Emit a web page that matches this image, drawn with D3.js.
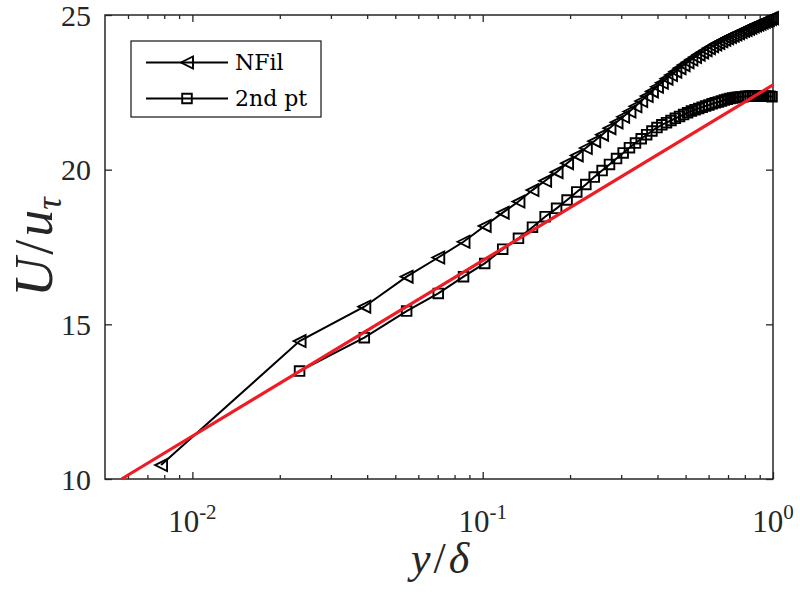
<!DOCTYPE html>
<html><head><meta charset="utf-8">
<script src="https://cdn.jsdelivr.net/npm/d3@7"></script>
<style>body{margin:0;background:#fff}svg{display:block}</style>
</head><body><svg id="c" width="800" height="593"></svg>
<script>
// ---- data ----
const yDelta = [0.0078,0.0234,0.0391,0.0547,0.0703,0.0859,0.1016,0.1172,0.1328,0.1484,
  0.1641,0.1797,0.1953,0.2109,0.2266,0.2422,0.2578,0.2734,0.2891,0.3047,
  0.3203,0.3359,0.3516,0.3672,0.3828,0.3984,0.4141,0.4297,0.4453,0.4609,
  0.4766,0.4922,0.5078,0.5234,0.5391,0.5547,0.5703,0.5859,0.6016,0.6172,
  0.6328,0.6484,0.6641,0.6797,0.6953,0.7109,0.7266,0.7422,0.7578,0.7734,
  0.7891,0.8047,0.8203,0.8359,0.8516,0.8672,0.8828,0.8984,0.9141,0.9297,
  0.9453,0.9609,0.9766,0.9922];
const nfilU = [10.45,14.46,15.57,16.54,17.16,17.67,18.18,18.61,18.97,19.34,
  19.64,19.92,20.21,20.46,20.70,20.92,21.13,21.34,21.53,21.71,
  21.88,22.05,22.22,22.38,22.53,22.68,22.81,22.94,23.06,23.17,
  23.28,23.38,23.47,23.56,23.64,23.72,23.79,23.86,23.93,23.99,
  24.05,24.10,24.15,24.20,24.25,24.29,24.33,24.37,24.41,24.45,
  24.49,24.52,24.56,24.59,24.63,24.66,24.69,24.72,24.75,24.78,
  24.81,24.84,24.87,24.90];
const secondU = [null,13.49,14.57,15.43,16.00,16.54,16.97,17.43,17.78,18.14,
  18.48,18.75,19.02,19.28,19.52,19.76,19.97,20.17,20.36,20.54,
  20.71,20.86,21.00,21.13,21.25,21.36,21.45,21.52,21.59,21.66,
  21.72,21.78,21.84,21.90,21.94,21.98,22.02,22.06,22.09,22.13,
  22.16,22.19,22.22,22.25,22.28,22.30,22.32,22.33,22.34,22.35,
  22.36,22.37,22.37,22.38,22.38,22.38,22.38,22.38,22.38,22.38,
  22.37,22.37,22.37,22.36];
const logLawX = [0.0057, 1];
const logLawU = [10, 22.74];
const xMajorTicks = [0.01, 0.1, 1];
const xTickExponents = ["-2", "-1", "0"];
const xMinorTicks = [0.006,0.007,0.008,0.009,0.02,0.03,0.04,0.05,0.06,0.07,0.08,0.09,
  0.2,0.3,0.4,0.5,0.6,0.7,0.8,0.9];
const yTicks = [10, 15, 20, 25];
const seriesNames = ["NFil", "2nd pt"];

// ---- layout ----
const L = 105, R = 773, T = 15, B = 479;
const axisColor = "#262626";
const svg = d3.select("#c");
const x = d3.scaleLog().domain([0.005, 1]).range([L, R]);
const y = d3.scaleLinear().domain([10, 25]).range([B, T]);

svg.append("rect").attr("width", 800).attr("height", 593).attr("fill", "#fff");

// ticks (inward, mirrored)
function ticks(axisFn, pos, vals, size) {
  const g = svg.append("g").attr("transform", pos)
    .call(axisFn.tickValues(vals).tickSize(-size).tickFormat(""));
  g.select(".domain").remove();
  g.selectAll("line").attr("stroke", axisColor).attr("stroke-width", 1.3);
}
ticks(d3.axisBottom(x), `translate(0,${B})`, xMajorTicks, 7);
ticks(d3.axisBottom(x), `translate(0,${B})`, xMinorTicks, 4);
ticks(d3.axisTop(x), `translate(0,${T})`, xMajorTicks, 7);
ticks(d3.axisTop(x), `translate(0,${T})`, xMinorTicks, 4);
ticks(d3.axisLeft(y), `translate(${L},0)`, yTicks, 7);
ticks(d3.axisRight(y), `translate(${R},0)`, yTicks, 7);

// frame
svg.append("rect").attr("x", L).attr("y", T).attr("width", R - L).attr("height", B - T)
  .attr("fill", "none").attr("stroke", axisColor).attr("stroke-width", 1.5);

// tick labels
const tickFont = "'Liberation Serif', 'Times New Roman', serif";
xMajorTicks.forEach((v, i) => {
  const t = svg.append("text").attr("x", x(v)).attr("y", 532)
    .attr("text-anchor", "middle").attr("font-family", tickFont)
    .attr("font-size", 31).attr("fill", axisColor);
  t.append("tspan").text("10");
  t.append("tspan").attr("dy", -13).attr("font-size", 21).text(xTickExponents[i]);
});
yTicks.forEach(v => {
  svg.append("text").attr("x", 91).attr("y", y(v) + 10.5)
    .attr("text-anchor", "end").attr("font-family", tickFont)
    .attr("font-size", 30).attr("fill", axisColor).text(v);
});

// axis labels
const mathFont = "'Liberation Serif', 'Times New Roman', serif";
const xl = svg.append("text").attr("x", 440).attr("y", 573).attr("text-anchor", "middle")
  .attr("font-family", mathFont).attr("font-size", 44).attr("fill", axisColor);
xl.append("tspan").attr("font-style", "italic").text("y");
xl.append("tspan").attr("dx", 3).text("/");
xl.append("tspan").attr("dx", 3).attr("font-style", "italic").text("δ");

const yl = svg.append("text").attr("transform", "translate(52,247) rotate(-90)")
  .attr("text-anchor", "middle").attr("font-family", mathFont)
  .attr("font-size", 54).attr("fill", axisColor);
yl.append("tspan").attr("font-style", "italic").text("U");
yl.append("tspan").attr("dx", 3).text("/");
yl.append("tspan").attr("dx", 3).attr("font-style", "italic").text("u");
yl.append("tspan").attr("dy", 9).attr("font-size", 35).attr("font-style", "italic").text("τ");

// marker shapes
const triR = 6, sqR = 4.8;
const triPath = `M${-triR},0L${triR},${-triR}L${triR},${triR}Z`;
const sqPath = `M${-sqR},${-sqR}H${sqR}V${sqR}H${-sqR}Z`;

const nfilData = yDelta.map((d, i) => ({ x: d, u: nfilU[i] }));
const secondData = yDelta.map((d, i) => ({ x: d, u: secondU[i] })).filter(d => d.u !== null);

const line = d3.line().x(d => x(d.x)).y(d => y(d.u));

function drawSeries(data, path) {
  svg.append("path").datum(data).attr("d", line).attr("fill", "none")
    .attr("stroke", "#000").attr("stroke-width", 2);
  svg.append("g").selectAll("path").data(data).join("path")
    .attr("transform", d => `translate(${x(d.x)},${y(d.u)})`)
    .attr("d", path).attr("fill", "none").attr("stroke", "#000").attr("stroke-width", 1.9);
}
drawSeries(nfilData, triPath);
drawSeries(secondData, sqPath);

// log law (red)
const lawData = logLawX.map((d, i) => ({ x: d, u: logLawU[i] }));
svg.append("path").datum(lawData).attr("d", line).attr("fill", "none")
  .attr("stroke", "#ee1c24").attr("stroke-width", 3.2);

// legend
const lg = svg.append("g");
lg.append("rect").attr("x", 131).attr("y", 41).attr("width", 190).attr("height", 76)
  .attr("fill", "#fff").attr("stroke", axisColor).attr("stroke-width", 1.3);
const legendRows = [62.5, 98.5];
const legendPaths = [triPath, sqPath];
seriesNames.forEach((name, i) => {
  const ly = legendRows[i];
  lg.append("line").attr("x1", 146).attr("x2", 228).attr("y1", ly).attr("y2", ly)
    .attr("stroke", "#000").attr("stroke-width", 2);
  lg.append("path").attr("transform", `translate(187,${ly})`).attr("d", legendPaths[i])
    .attr("fill", "none").attr("stroke", "#000").attr("stroke-width", 1.9);
  lg.append("text").attr("x", 235).attr("y", ly + 7.5)
    .attr("font-family", "'DejaVu Serif', serif").attr("font-size", 22)
    .attr("fill", "#000").text(name);
});
</script>
</body></html>
